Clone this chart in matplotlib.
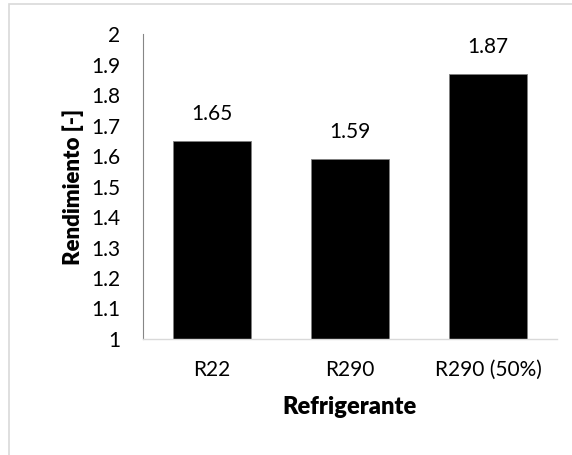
import matplotlib
matplotlib.use("Agg")
import matplotlib.pyplot as plt
from matplotlib.patches import Rectangle

categories = ["R22", "R290", "R290 (50%)"]
values = [1.65, 1.59, 1.87]
yticks = [1, 1.1, 1.2, 1.3, 1.4, 1.5, 1.6, 1.7, 1.8, 1.9, 2]
ytick_labels = ["1", "1.1", "1.2", "1.3", "1.4", "1.5", "1.6", "1.7", "1.8", "1.9", "2"]

plt.rcParams["font.family"] = ["Lato", "DejaVu Sans"]

fig = plt.figure(figsize=(5.72, 4.55), dpi=100)
ax = fig.add_axes([143 / 572, 1 - 339 / 455, 414 / 572, 305 / 455])

x = range(len(categories))
bars = ax.bar(x, values, width=0.57, bottom=0, color="black",
              edgecolor="#7f7f7f", linewidth=0.6)
for xi, v in zip(x, values):
    ax.text(xi, v + 0.055, f"{v:.2f}", ha="center", va="bottom", fontsize=15)

ax.set_xlim(-0.5, len(categories) - 0.5)
ax.set_ylim(1, 2)
ax.set_yticks(yticks)
ax.set_yticklabels(ytick_labels, fontsize=15)
ax.set_xticks(list(x))
ax.set_xticklabels(categories, fontsize=15)
ax.tick_params(axis="both", length=0)
ax.tick_params(axis="y", pad=16.5)
ax.tick_params(axis="x", pad=15)

for s in ("top", "right"):
    ax.spines[s].set_visible(False)
ax.spines["left"].set_color("#868686")
ax.spines["left"].set_linewidth(0.8)
ax.spines["bottom"].set_color("#d9d9d9")
ax.spines["bottom"].set_linewidth(1.0)

ax.set_xlabel("Refrigerante", fontsize=17, fontweight="heavy", labelpad=12)
ax.set_ylabel("Rendimiento [-]", fontsize=16, fontweight="heavy", labelpad=5)

# chart area outline
fig.patches.append(Rectangle((9 / 572, -0.1), 1.2, 1 - 4 / 455 + 0.1,
                             transform=fig.transFigure, fill=False,
                             edgecolor="#d9d9d9", linewidth=1.2))

fig.savefig("out.png", dpi=100)
